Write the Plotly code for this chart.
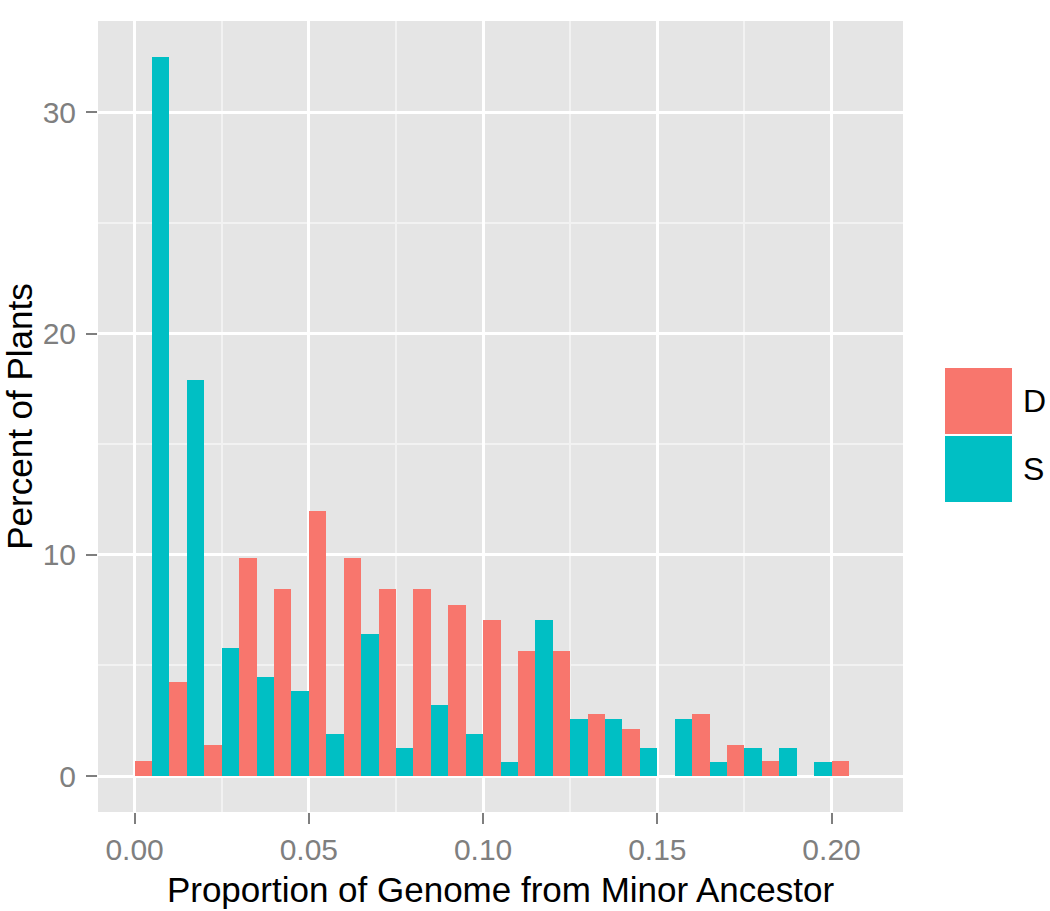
import plotly.graph_objects as go

# Histogram bins (left edges, width 0.01) and percent of plants per group
bin_left = [0.00, 0.01, 0.02, 0.03, 0.04, 0.05, 0.06, 0.07, 0.08, 0.09, 0.10,
            0.11, 0.12, 0.13, 0.14, 0.15, 0.16, 0.17, 0.18, 0.19, 0.20]
bin_width = 0.01
groups = ["D", "S"]
d_pct = [0.70, 4.23, 1.41, 9.86, 8.45, 11.97, 9.86, 8.45, 8.45, 7.75, 7.04,
         5.63, 5.63, 2.82, 2.11, 0.0, 2.82, 1.41, 0.70, 0.0, 0.70]
s_pct = [32.5, 17.9, 5.77, 4.49, 3.85, 1.92, 6.41, 1.28, 3.21, 1.92, 0.64,
         7.05, 2.56, 2.56, 1.28, 2.56, 0.64, 1.28, 1.28, 0.64, 0.0]
colors = {"D": "#F8766D", "S": "#00BFC4"}

x_ticks = [0.00, 0.05, 0.10, 0.15, 0.20]
x_tick_text = ["0.00", "0.05", "0.10", "0.15", "0.20"]
y_ticks = [0, 10, 20, 30]
y_tick_text = ["0", "10", "20", "30"]

centers = [b + bin_width / 2 for b in bin_left]
half = bin_width / 2

fig = go.Figure()
fig.add_trace(go.Bar(x=centers, y=d_pct, name="D", offset=-half, width=half,
                     marker=dict(color=colors["D"], line=dict(width=0)), showlegend=False))
fig.add_trace(go.Bar(x=centers, y=s_pct, name="S", offset=0, width=half,
                     marker=dict(color=colors["S"], line=dict(width=0)), showlegend=False))

W, H = 1050, 911
L, R, T, B = 98, 147, 21, 99
pw, ph = W - L - R, H - T - B

def px(x):
    return (x - L) / pw

def py(y):
    return (H - B - y) / ph

FONT = "Liberation Sans, Arial, sans-serif"
tick_font = dict(family=FONT, size=30, color="#7F7F7F")
title_font = dict(family=FONT, size=35, color="#000000")

fig.update_layout(
    width=W, height=H,
    margin=dict(l=L, r=R, t=T, b=B, autoexpand=False),
    paper_bgcolor="white",
    plot_bgcolor="#E5E5E5",
    barmode="overlay",
    bargap=0,
    xaxis=dict(
        range=[-0.0105, 0.2205], tickvals=x_ticks, ticktext=x_tick_text,
        showgrid=True, gridcolor="white", gridwidth=3,
        minor=dict(showgrid=True, gridcolor="#F2F2F2", gridwidth=1.5, dtick=0.025, tick0=0, ticks=""),
        ticks="outside", ticklen=11, tickwidth=2, tickcolor="#7F7F7F",
        tickfont=tick_font, zeroline=False, showline=False, ticklabelstandoff=0,
        title=dict(text="Proportion of Genome from Minor Ancestor", font=title_font, standoff=12),
        automargin=False,
    ),
    yaxis=dict(
        range=[-1.625, 34.125], tickvals=y_ticks, ticktext=y_tick_text,
        showgrid=True, gridcolor="white", gridwidth=3,
        minor=dict(showgrid=True, gridcolor="#F2F2F2", gridwidth=1.5, dtick=5, tick0=0, ticks=""),
        ticks="outside", ticklen=11, tickwidth=2, tickcolor="#7F7F7F",
        tickfont=tick_font, zeroline=False, showline=False, ticklabelstandoff=4,
        title=dict(text="Percent of Plants", font=title_font, standoff=18),
        automargin=False,
    ),
)

# Legend drawn as keys + labels (ggplot-style)
key_x0, key_x1 = 945, 1012
keys = [("D", 368, 434), ("S", 436, 502)]
for name, y0, y1 in keys:
    fig.add_shape(type="rect", xref="paper", yref="paper",
                  x0=px(key_x0), x1=px(key_x1), y0=py(y1), y1=py(y0),
                  fillcolor=colors[name], line=dict(width=0), layer="above")
    fig.add_annotation(xref="paper", yref="paper", x=px(1021), y=py((y0 + y1) / 2),
                       text=name, showarrow=False, xanchor="left", yanchor="middle",
                       font=dict(family=FONT, size=32, color="#000000"))

fig.write_html("out.html", config={"displayModeBar": False},
               post_script="document.body.style.margin='0';document.body.style.overflow='hidden';")
